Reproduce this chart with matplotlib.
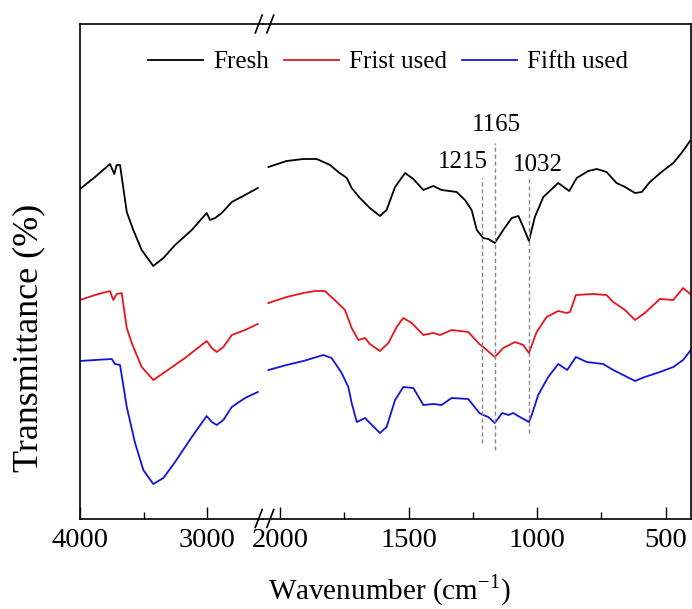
import numpy as np
import matplotlib
matplotlib.use('Agg')
import matplotlib.pyplot as plt

plt.rcParams['font.family'] = 'Liberation Serif'
plt.rcParams['mathtext.fontset'] = 'custom'
plt.rcParams['mathtext.rm'] = 'Liberation Serif'

# FTIR spectra (transmittance in arbitrary, offset units)
# high wavenumber segment (4000 - 2600 cm-1)
fresh_left_wn = [4000, 3882, 3765, 3731, 3712, 3686, 3633, 3582, 3516, 3425, 3346, 3254, 3123, 3006, 2980, 2940, 2888, 2809, 2705, 2605]
fresh_left_t = [325, 337, 350, 340, 349, 349, 302, 284, 264, 248, 256, 269, 284, 301, 294, 296, 301, 312, 319, 326]
red_left_wn = [4000, 3882, 3765, 3739, 3712, 3673, 3633, 3594, 3516, 3425, 3333, 3176, 3006, 2966, 2927, 2875, 2809, 2705, 2605]
red_left_t = [214, 219, 223, 214, 220, 221, 186, 171, 147, 134, 142, 156, 173, 166, 162, 167, 179, 184, 190]
blue_left_wn = [4000, 3882, 3751, 3725, 3686, 3633, 3568, 3503, 3425, 3346, 3254, 3123, 3006, 2966, 2927, 2875, 2809, 2705, 2605]
blue_left_t = [153, 154, 155, 150, 149, 107, 71, 44, 30, 36, 52, 77, 98, 92, 89, 94, 107, 116, 122]

# low wavenumber segment (2050 - 400 cm-1)
fresh_right_wn = [2046, 1975, 1910, 1858, 1806, 1774, 1741, 1722, 1690, 1651, 1612, 1586, 1553, 1514, 1482, 1443,
                  1404, 1372, 1313, 1281, 1255, 1235, 1210, 1190, 1165, 1132, 1099, 1073, 1054, 1032, 1009, 976,
                  918, 875, 846, 801, 768, 730, 691, 658, 619, 593, 561, 516, 470, 438, 405]
fresh_right_t = [347, 353, 355, 355, 349, 342, 336, 326, 316, 306, 298, 304, 327, 341, 335, 324,
                 328, 324, 322, 314, 304, 284, 276, 275, 271, 284, 296, 298, 287, 273, 297, 317,
                 331, 323, 336, 343, 345, 342, 331, 327, 321, 322, 332, 342, 351, 361, 373]
red_right_wn = [2046, 1975, 1910, 1865, 1826, 1780, 1748, 1722, 1696, 1670, 1651, 1612, 1579, 1547, 1521, 1488,
                1443, 1404, 1378, 1333, 1268, 1225, 1210, 1165, 1132, 1086, 1054, 1032, 1002, 963, 918, 885,
                872, 849, 782, 730, 704, 658, 619, 581, 522, 470, 432, 399]
red_right_t = [211, 217, 221, 223, 223, 212, 204, 186, 174, 176, 170, 163, 171, 187, 196, 191,
               179, 181, 179, 184, 182, 170, 167, 157, 166, 172, 169, 161, 182, 197, 203, 201,
               202, 219, 220, 219, 212, 204, 194, 201, 215, 214, 226, 219]
blue_right_wn = [2046, 1975, 1910, 1832, 1800, 1761, 1735, 1722, 1702, 1670, 1651, 1612, 1586, 1553, 1521, 1482,
                 1443, 1404, 1372, 1333, 1268, 1225, 1210, 1190, 1165, 1136, 1112, 1093, 1067, 1032, 1021, 996,
                 957, 918, 883, 849, 807, 743, 704, 665, 619, 581, 522, 470, 432, 399]
blue_right_t = [144, 149, 153, 159, 156, 141, 127, 111, 92, 96, 91, 81, 87, 114, 127, 126,
                109, 110, 109, 116, 115, 101, 99, 97, 91, 101, 99, 101, 97, 92, 99, 119,
                137, 150, 144, 157, 152, 150, 144, 139, 133, 137, 142, 147, 154, 165]

labels = ['Fresh', 'Frist used', 'Fifth used']
colors = ['black', '#e8141c', '#1414d8']

peaks = [1215, 1165, 1032]
peak_top = [336, 371, 336]
peak_bottom = [71, 64, 81]

fig = plt.figure(figsize=(6.92, 6.09), dpi=100)
ax1 = fig.add_axes([0.1156, 0.1486, 0.2645, 0.812])
ax2 = fig.add_axes([0.3801, 0.1486, 0.6185, 0.812])

left = [(fresh_left_wn, fresh_left_t), (red_left_wn, red_left_t), (blue_left_wn, blue_left_t)]
right = [(fresh_right_wn, fresh_right_t), (red_right_wn, red_right_t), (blue_right_wn, blue_right_t)]
for (x, y), c in zip(left, colors):
    ax1.plot(x, y, color=c, lw=1.3)
for (x, y), c, lab in zip(right, colors, labels):
    ax2.plot(x, y, color=c, lw=1.3, label=lab)

for p, t, b in zip(peaks, peak_top, peak_bottom):
    ax2.plot([p, p], [b, t], color='#888888', lw=1.0, dashes=(3, 2))
ax2.text(1289, 352, '1215', ha='center', va='center', fontsize=18)
ax2.text(1160, 389, '1165', ha='center', va='center', fontsize=18)
ax2.text(997, 349, '1032', ha='center', va='center', fontsize=18)

ax1.set_xlim(4000, 2564)
ax2.set_xlim(2067, 401)
for ax in (ax1, ax2):
    ax.set_ylim(-4.5, 490)
    ax.set_yticks([])
    ax.tick_params(axis='x', direction='in', which='both', labelsize=20.5, pad=7, width=1)
    ax.tick_params(axis='x', which='major', length=9)
    ax.tick_params(axis='x', which='minor', length=5)
    for s in ax.spines.values():
        s.set_linewidth(1.2)

ax1.set_xticks([4000, 3000])
ax1.set_xticks([3500], minor=True)
ax2.set_xticks([2000, 1500, 1000, 500])
ax2.set_xticks([1750, 1250, 750], minor=True)
ax1.spines['right'].set_visible(False)
ax2.spines['left'].set_visible(False)

# break marks
for yy in (0, 1):
    for dx in (-0.018, 0.009):
        ax2.plot([dx, dx + 0.016], [yy - 0.018, yy + 0.018], transform=ax2.transAxes,
                 color='black', lw=1.2, clip_on=False)

fig.text(0.042, 0.445, 'Transmittance (%)', rotation=90, ha='center', va='center', fontsize=26)
fig.text(0.563, 0.031, 'Wavenumber (cm$^{-1}$)', ha='center', va='center', fontsize=21)

fig.legend(loc='center', bbox_to_anchor=(0.561, 0.898), ncol=3, frameon=False, fontsize=18,
           handlelength=2.2, handletextpad=0.4, columnspacing=0.6)

fig.savefig('out.png', dpi=100)
